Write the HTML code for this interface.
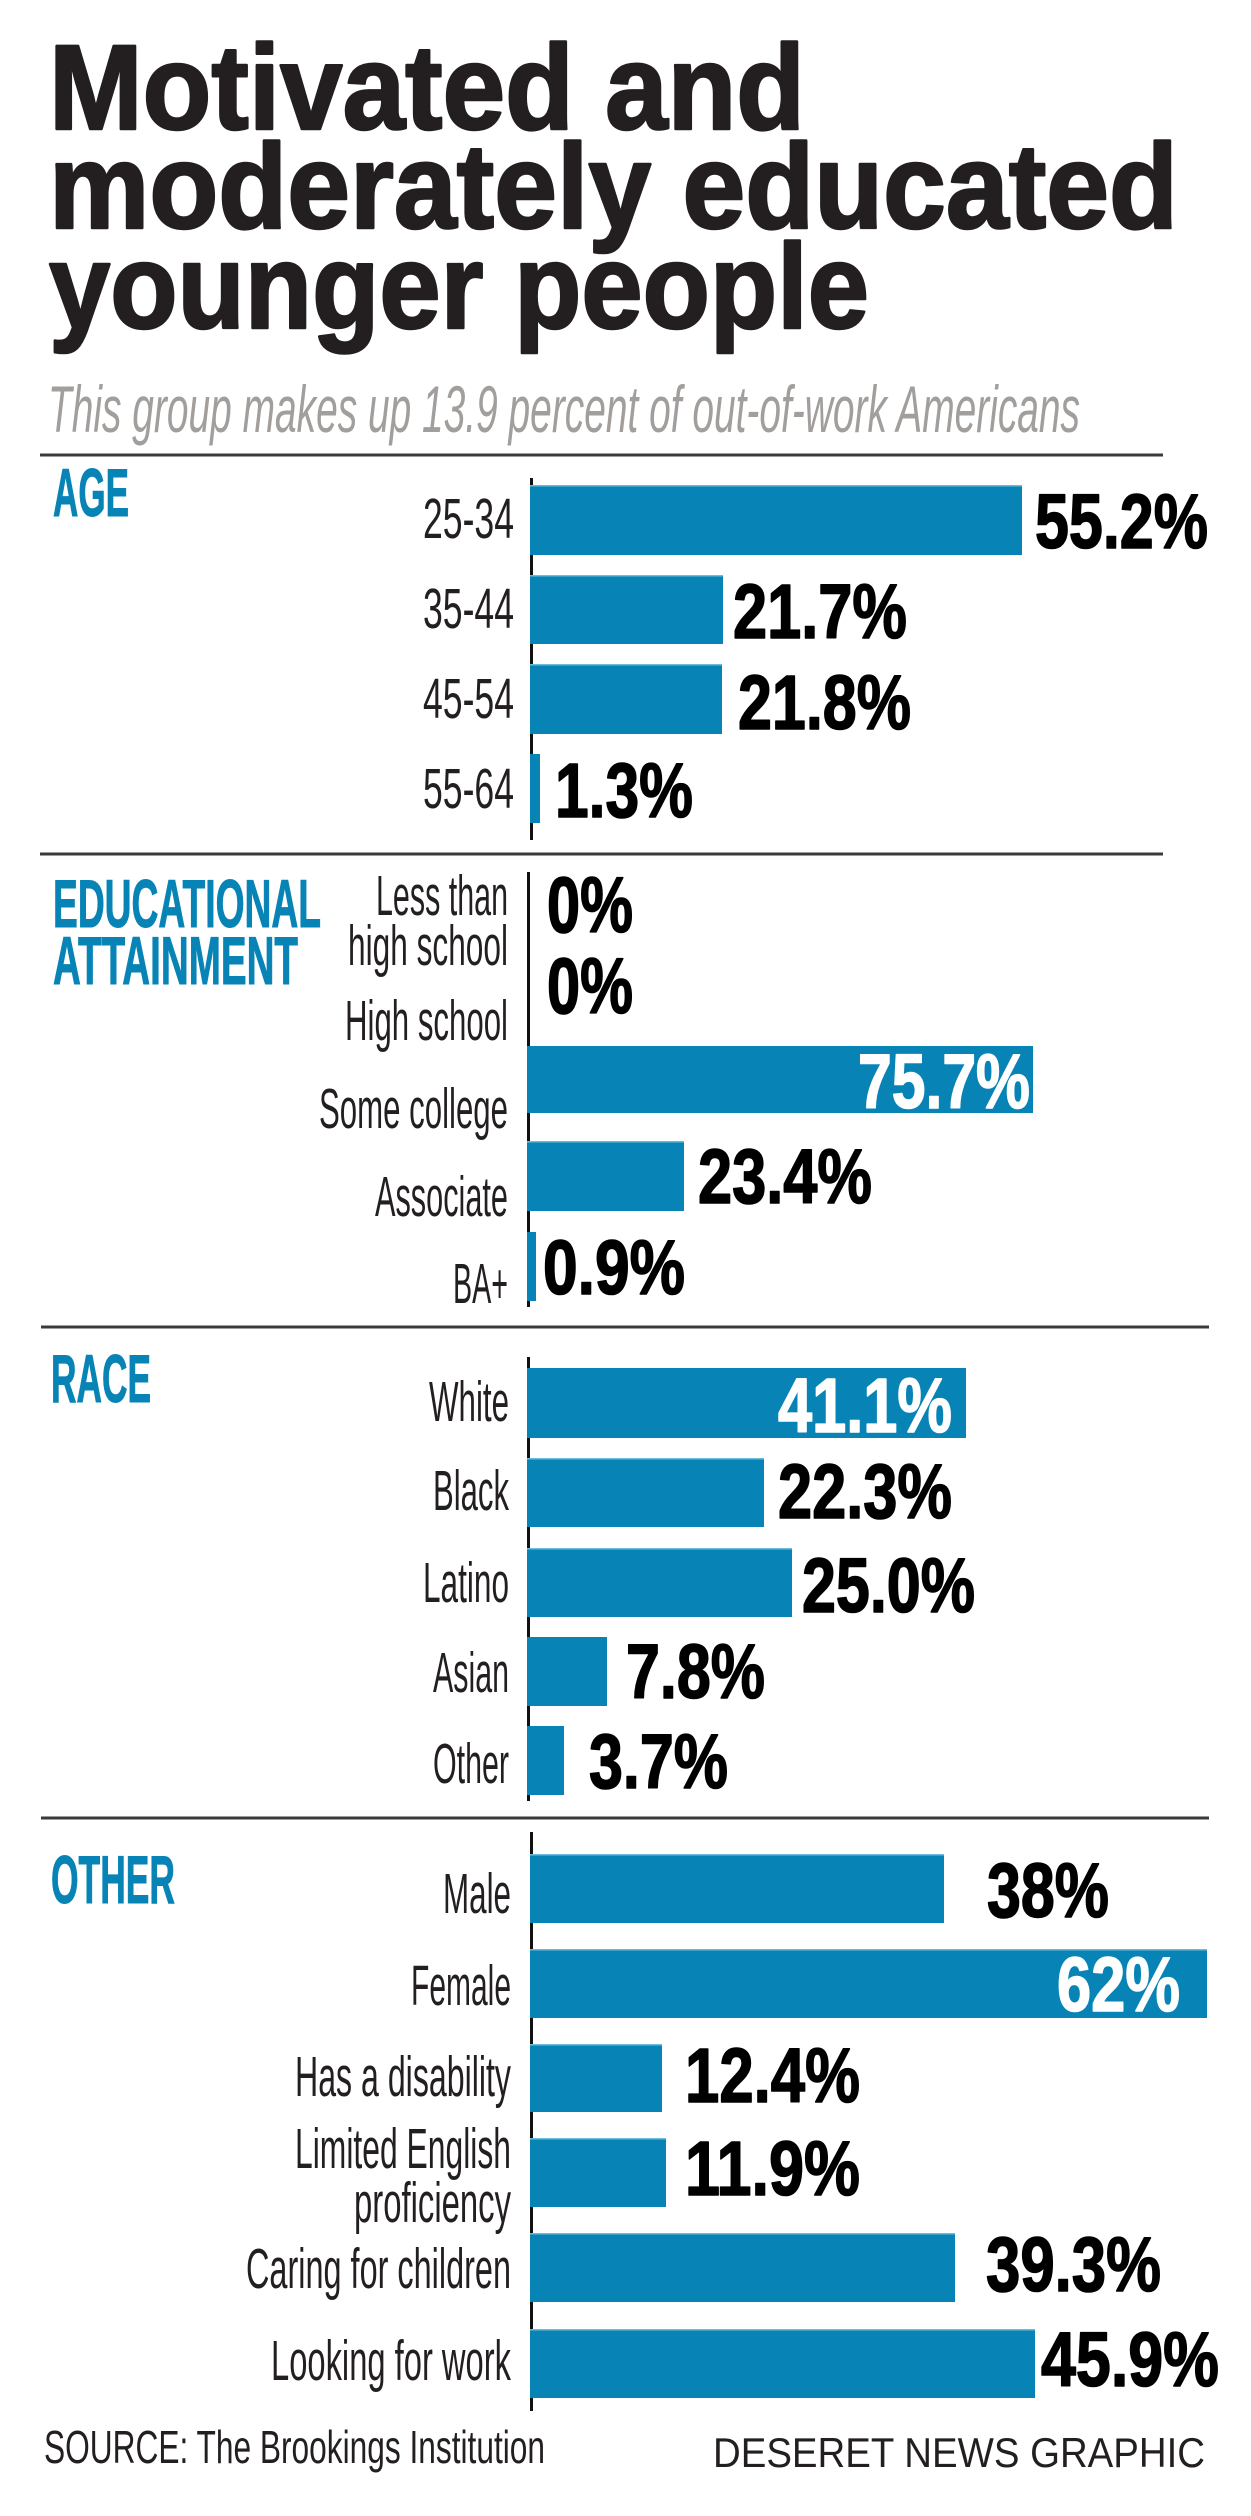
<!DOCTYPE html>
<html>
<head>
<meta charset="utf-8">
<style>
  html, body { margin:0; padding:0; background:#ffffff; }
  body { width:1251px; height:2516px; overflow:hidden; }
  svg { display:block; }
  .t { font-family:"Liberation Sans", Arial, sans-serif; font-weight:bold; fill:#231f20; stroke:#231f20; stroke-width:2.5; stroke-linejoin:round; }
  .sub { font-family:"Liberation Sans", Arial, sans-serif; font-style:italic; fill:#a19e9c; }
  .hd { font-family:"Liberation Sans", Arial, sans-serif; font-weight:bold; fill:#0784b5; stroke:#0784b5; stroke-width:1; }
  .lb { font-family:"Liberation Sans", Arial, sans-serif; fill:#231f20; }
  .v { font-family:"Liberation Sans", Arial, sans-serif; font-weight:bold; fill:#000; stroke:#000; stroke-width:1.6; stroke-linejoin:round; }
  .vw { font-family:"Liberation Sans", Arial, sans-serif; font-weight:bold; fill:#ffffff; stroke:#ffffff; stroke-width:1.6; stroke-linejoin:round; }
  .ft { font-family:"Liberation Sans", Arial, sans-serif; fill:#231f20; }
</style>
</head>
<body>
<svg width="1251" height="2516" viewBox="0 0 1251 2516" xmlns="http://www.w3.org/2000/svg">
  <rect x="0" y="0" width="1251" height="2516" fill="#ffffff"/>

  <!-- Title -->
  <text class="t" x="49" y="129" font-size="121" textLength="756" lengthAdjust="spacingAndGlyphs">Motivated and</text>
  <text class="t" x="49" y="228" font-size="121" textLength="1129" lengthAdjust="spacingAndGlyphs">moderately educated</text>
  <text class="t" x="49" y="328" font-size="121" textLength="820" lengthAdjust="spacingAndGlyphs">younger people</text>

  <!-- Subtitle -->
  <text class="sub" x="48" y="432" font-size="66" textLength="1032" lengthAdjust="spacingAndGlyphs">This group makes up 13.9 percent of out-of-work Americans</text>

  <!-- Rules -->
  <rect x="40" y="453.5" width="1123" height="3" fill="#3a3a3a"/>
  <rect x="40" y="852.5" width="1123" height="3" fill="#3a3a3a"/>
  <rect x="41" y="1325.5" width="1168" height="3" fill="#3a3a3a"/>
  <rect x="41" y="1816.5" width="1168" height="3" fill="#3a3a3a"/>

  <!-- ============ AGE ============ -->
  <text class="hd" x="53" y="516" font-size="68" textLength="76" lengthAdjust="spacingAndGlyphs">AGE</text>
  <rect x="530" y="478" width="3" height="362" fill="#111"/>
  <g fill="#0784b5">
    <rect x="530" y="485" width="492" height="70"/>
    <rect x="530" y="575" width="193" height="69"/>
    <rect x="530" y="664" width="192" height="70"/>
    <rect x="530" y="754" width="10" height="69"/>
  </g>
  <g fill="#6cbbdc">
    <rect x="530" y="485" width="492" height="1.5"/>
    <rect x="530" y="575" width="193" height="1.5"/>
    <rect x="530" y="664" width="192" height="1.5"/>
  </g>
  <text class="lb" x="514" y="538" font-size="57" text-anchor="end" textLength="91" lengthAdjust="spacingAndGlyphs">25-34</text>
  <text class="lb" x="514" y="628" font-size="57" text-anchor="end" textLength="91" lengthAdjust="spacingAndGlyphs">35-44</text>
  <text class="lb" x="514" y="718" font-size="57" text-anchor="end" textLength="91" lengthAdjust="spacingAndGlyphs">45-54</text>
  <text class="lb" x="514" y="808" font-size="57" text-anchor="end" textLength="91" lengthAdjust="spacingAndGlyphs">55-64</text>
  <text class="v" x="1035" y="548" font-size="77" textLength="173" lengthAdjust="spacingAndGlyphs">55.2%</text>
  <text class="v" x="733" y="638" font-size="77" textLength="174" lengthAdjust="spacingAndGlyphs">21.7%</text>
  <text class="v" x="738" y="729" font-size="77" textLength="173" lengthAdjust="spacingAndGlyphs">21.8%</text>
  <text class="v" x="555" y="817" font-size="77" textLength="138" lengthAdjust="spacingAndGlyphs">1.3%</text>

  <!-- ============ EDUCATION ============ -->
  <text class="hd" x="53" y="927" font-size="68" textLength="268" lengthAdjust="spacingAndGlyphs">EDUCATIONAL</text>
  <text class="hd" x="53" y="984" font-size="68" textLength="245" lengthAdjust="spacingAndGlyphs">ATTAINMENT</text>
  <rect x="527" y="872" width="3" height="435" fill="#111"/>
  <g fill="#0784b5">
    <rect x="527" y="1046" width="506" height="67"/>
    <rect x="527" y="1141" width="157" height="70"/>
    <rect x="527" y="1232" width="9" height="69"/>
  </g>
  <g fill="#6cbbdc">
    <rect x="527" y="1141" width="157" height="1.5"/>
  </g>
  <text class="lb" x="508" y="915" font-size="57" text-anchor="end" textLength="132" lengthAdjust="spacingAndGlyphs">Less than</text>
  <text class="lb" x="508" y="965" font-size="57" text-anchor="end" textLength="160" lengthAdjust="spacingAndGlyphs">high school</text>
  <text class="lb" x="508" y="1040" font-size="57" text-anchor="end" textLength="163" lengthAdjust="spacingAndGlyphs">High school</text>
  <text class="lb" x="508" y="1128" font-size="57" text-anchor="end" textLength="189" lengthAdjust="spacingAndGlyphs">Some college</text>
  <text class="lb" x="508" y="1216" font-size="57" text-anchor="end" textLength="133" lengthAdjust="spacingAndGlyphs">Associate</text>
  <text class="lb" x="508" y="1303" font-size="57" text-anchor="end" textLength="55" lengthAdjust="spacingAndGlyphs">BA+</text>
  <text class="v" x="547" y="932" font-size="79" textLength="86" lengthAdjust="spacingAndGlyphs">0%</text>
  <text class="v" x="547" y="1013" font-size="79" textLength="86" lengthAdjust="spacingAndGlyphs">0%</text>
  <text class="vw" x="858" y="1108" font-size="77" textLength="172" lengthAdjust="spacingAndGlyphs">75.7%</text>
  <text class="v" x="698" y="1203" font-size="77" textLength="174" lengthAdjust="spacingAndGlyphs">23.4%</text>
  <text class="v" x="543" y="1294" font-size="77" textLength="142" lengthAdjust="spacingAndGlyphs">0.9%</text>

  <!-- ============ RACE ============ -->
  <text class="hd" x="51" y="1402" font-size="68" textLength="100" lengthAdjust="spacingAndGlyphs">RACE</text>
  <rect x="527" y="1357" width="3" height="444" fill="#111"/>
  <g fill="#0784b5">
    <rect x="527" y="1368" width="439" height="70"/>
    <rect x="527" y="1458" width="237" height="69"/>
    <rect x="527" y="1548" width="265" height="69"/>
    <rect x="527" y="1637" width="80" height="69"/>
    <rect x="527" y="1726" width="37" height="69"/>
  </g>
  <g fill="#6cbbdc">
    <rect x="527" y="1458" width="237" height="1.5"/>
    <rect x="527" y="1548" width="265" height="1.5"/>
  </g>
  <text class="lb" x="509" y="1421" font-size="57" text-anchor="end" textLength="80" lengthAdjust="spacingAndGlyphs">White</text>
  <text class="lb" x="509" y="1510" font-size="57" text-anchor="end" textLength="76" lengthAdjust="spacingAndGlyphs">Black</text>
  <text class="lb" x="509" y="1602" font-size="57" text-anchor="end" textLength="86" lengthAdjust="spacingAndGlyphs">Latino</text>
  <text class="lb" x="509" y="1692" font-size="57" text-anchor="end" textLength="76" lengthAdjust="spacingAndGlyphs">Asian</text>
  <text class="lb" x="509" y="1783" font-size="57" text-anchor="end" textLength="76" lengthAdjust="spacingAndGlyphs">Other</text>
  <text class="vw" x="778" y="1432" font-size="77" textLength="174" lengthAdjust="spacingAndGlyphs">41.1%</text>
  <text class="v" x="778" y="1518" font-size="77" textLength="174" lengthAdjust="spacingAndGlyphs">22.3%</text>
  <text class="v" x="802" y="1612" font-size="77" textLength="173" lengthAdjust="spacingAndGlyphs">25.0%</text>
  <text class="v" x="626" y="1698" font-size="77" textLength="139" lengthAdjust="spacingAndGlyphs">7.8%</text>
  <text class="v" x="589" y="1788" font-size="77" textLength="139" lengthAdjust="spacingAndGlyphs">3.7%</text>

  <!-- ============ OTHER ============ -->
  <text class="hd" x="51" y="1903" font-size="68" textLength="124" lengthAdjust="spacingAndGlyphs">OTHER</text>
  <rect x="530" y="1832" width="3" height="579" fill="#111"/>
  <g fill="#0784b5">
    <rect x="530" y="1854" width="414" height="69"/>
    <rect x="530" y="1949" width="677" height="69"/>
    <rect x="530" y="2044" width="132" height="68"/>
    <rect x="530" y="2138" width="136" height="69"/>
    <rect x="530" y="2233" width="425" height="69"/>
    <rect x="530" y="2329" width="505" height="69"/>
  </g>
  <g fill="#6cbbdc">
    <rect x="530" y="1854" width="414" height="1.5"/>
    <rect x="530" y="1949" width="677" height="1.5"/>
    <rect x="530" y="2044" width="132" height="1.5"/>
    <rect x="530" y="2138" width="136" height="1.5"/>
    <rect x="530" y="2233" width="425" height="1.5"/>
    <rect x="530" y="2329" width="505" height="1.5"/>
  </g>
  <text class="lb" x="511" y="1913" font-size="57" text-anchor="end" textLength="68" lengthAdjust="spacingAndGlyphs">Male</text>
  <text class="lb" x="511" y="2005" font-size="57" text-anchor="end" textLength="100" lengthAdjust="spacingAndGlyphs">Female</text>
  <text class="lb" x="511" y="2096" font-size="57" text-anchor="end" textLength="216" lengthAdjust="spacingAndGlyphs">Has a disability</text>
  <text class="lb" x="511" y="2168" font-size="57" text-anchor="end" textLength="216" lengthAdjust="spacingAndGlyphs">Limited English</text>
  <text class="lb" x="511" y="2222" font-size="57" text-anchor="end" textLength="157" lengthAdjust="spacingAndGlyphs">proficiency</text>
  <text class="lb" x="511" y="2288" font-size="57" text-anchor="end" textLength="265" lengthAdjust="spacingAndGlyphs">Caring for children</text>
  <text class="lb" x="511" y="2380" font-size="57" text-anchor="end" textLength="240" lengthAdjust="spacingAndGlyphs">Looking for work</text>
  <text class="v" x="987" y="1917" font-size="77" textLength="122" lengthAdjust="spacingAndGlyphs">38%</text>
  <text class="vw" x="1057" y="2011" font-size="77" textLength="123" lengthAdjust="spacingAndGlyphs">62%</text>
  <text class="v" x="685" y="2102" font-size="77" textLength="175" lengthAdjust="spacingAndGlyphs">12.4%</text>
  <text class="v" x="685" y="2195" font-size="77" textLength="175" lengthAdjust="spacingAndGlyphs">11.9%</text>
  <text class="v" x="986" y="2291" font-size="77" textLength="175" lengthAdjust="spacingAndGlyphs">39.3%</text>
  <text class="v" x="1041" y="2386" font-size="77" textLength="178" lengthAdjust="spacingAndGlyphs">45.9%</text>

  <!-- Footer -->
  <text class="ft" x="44" y="2463" font-size="46" textLength="501" lengthAdjust="spacingAndGlyphs">SOURCE: The Brookings Institution</text>
  <text class="ft" x="713" y="2467" font-size="42" textLength="492" lengthAdjust="spacingAndGlyphs">DESERET NEWS GRAPHIC</text>
</svg>
</body>
</html>
